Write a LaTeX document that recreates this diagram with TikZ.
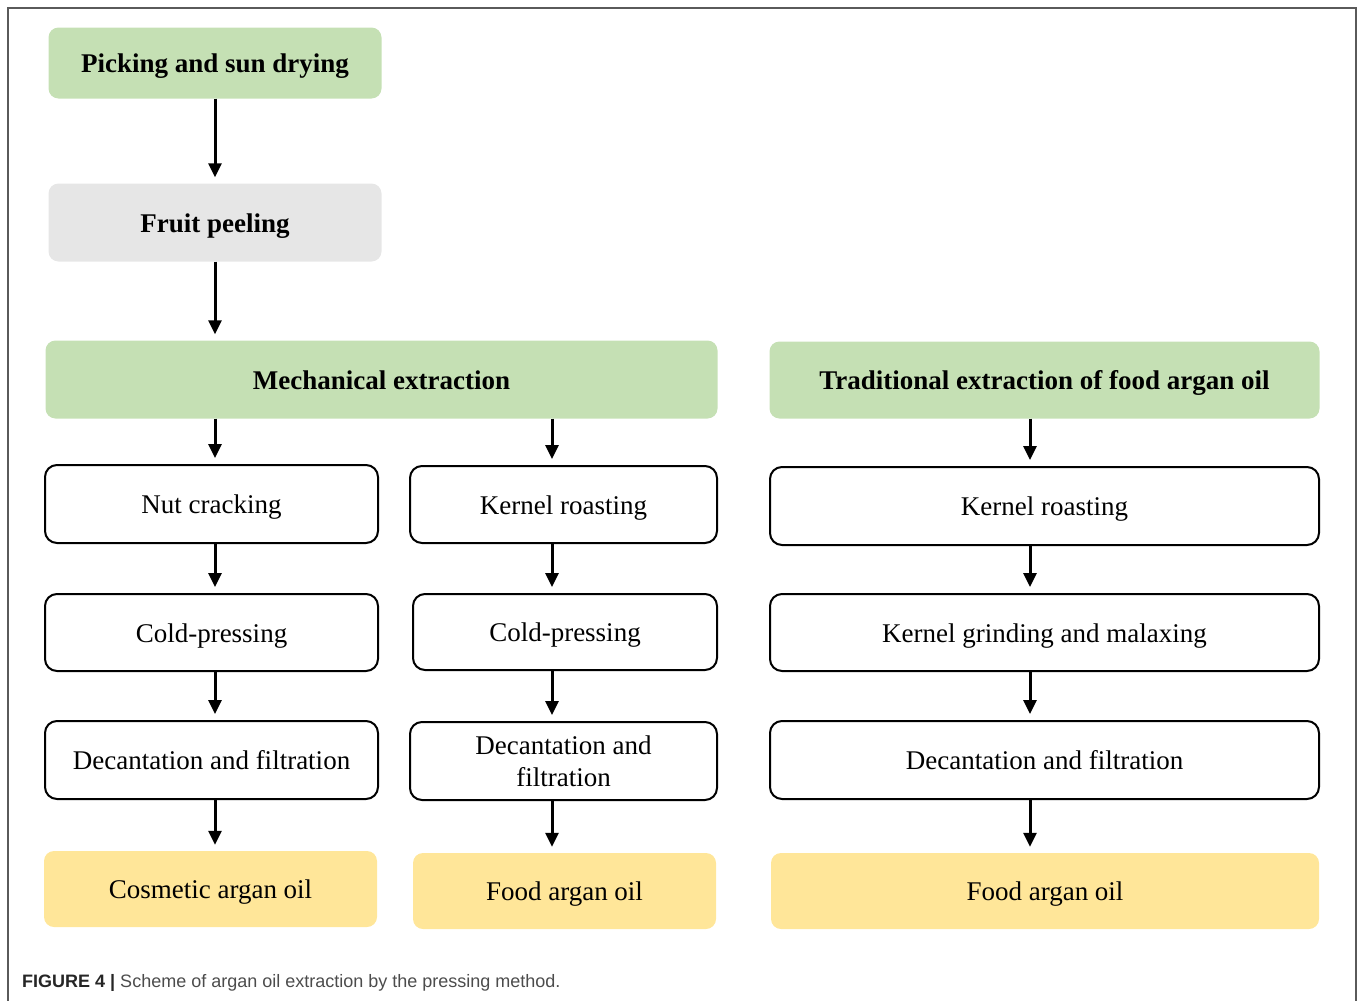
\documentclass[tikz,border=0pt]{standalone}
\usepackage{fontspec}
\setmainfont{Liberation Serif}
\newfontfamily\capfont{Liberation Sans}
\usetikzlibrary{arrows.meta}
\definecolor{stagegreen}{HTML}{C5E0B4}
\definecolor{peelgray}{HTML}{E6E6E6}
\definecolor{oilyellow}{HTML}{FFE699}
\definecolor{framegray}{HTML}{5A5A5A}
\begin{document}
\begin{tikzpicture}[x=1pt,y=-1pt,
  font=\fontsize{27}{32}\selectfont,
  onerow/.style={text height=20pt, text depth=0.5pt},
  stagebox/.style={rectangle, rounded corners=10pt, fill=stagegreen, inner sep=0pt, onerow, font=\fontsize{27}{32}\selectfont\bfseries},
  peelbox/.style={stagebox, fill=peelgray},
  framebox/.style={rectangle, rounded corners=12pt, draw, line width=2pt, fill=white, inner sep=0pt, align=center},
  stepbox/.style={framebox, onerow},
  oilbox/.style={rectangle, rounded corners=10pt, fill=oilyellow, inner sep=0pt, onerow},
  flow/.style={line width=3pt, -{Triangle[width=13pt,length=14pt]}, shorten >=6pt}]
\useasboundingbox (0,0) rectangle (1358,1001);
\draw[framegray, line width=1.5pt] (8,1001) -- (8,8) -- (1356,8) -- (1356,1001);
\coordinate (colA) at (215,0);
\coordinate (colB) at (552,0);
\coordinate (colC) at (1030,0);
\node[stagebox, minimum width=333pt, minimum height=71pt] (pick) at (215,63) {Picking and sun drying};
\node[peelbox, minimum width=333pt, minimum height=78pt] (peel) at (215,222.5) {Fruit peeling};
\node[stagebox, minimum width=672pt, minimum height=78pt] (mech) at (381.5,379.5) {Mechanical extraction};
\node[stagebox, minimum width=550pt, minimum height=77pt] (trad) at (1044.5,380) {Traditional extraction of food argan oil};
\node[stepbox, minimum width=333pt, minimum height=78pt] (crack) at (211.5,504) {Nut cracking};
\node[stepbox, minimum width=307pt, minimum height=77pt] (roastA) at (563.5,504.5) {Kernel roasting};
\node[stepbox, minimum width=549pt, minimum height=78pt] (roastB) at (1044.5,506) {Kernel roasting};
\node[stepbox, minimum width=333pt, minimum height=77pt] (pressA) at (211.5,632.5) {Cold-pressing};
\node[stepbox, minimum width=304pt, minimum height=76pt] (pressB) at (565,632) {Cold-pressing};
\node[stepbox, minimum width=549pt, minimum height=77pt] (grind) at (1044.5,632.5) {Kernel grinding and malaxing};
\node[stepbox, minimum width=333pt, minimum height=78pt] (decA) at (211.5,760) {Decantation and filtration};
\node[framebox, minimum width=307pt, minimum height=78pt] (decB) at (563.5,761) {Decantation and\\filtration};
\node[stepbox, minimum width=549pt, minimum height=78pt] (decC) at (1044.5,760) {Decantation and filtration};
\node[oilbox, minimum width=333pt, minimum height=76pt] (cosm) at (210.5,889) {Cosmetic argan oil};
\node[oilbox, minimum width=303pt, minimum height=76pt] (foodA) at (564.5,891) {Food argan oil};
\node[oilbox, minimum width=548pt, minimum height=76pt] (foodB) at (1045,891) {Food argan oil};
\node[anchor=base west, inner sep=0pt, font=\capfont\fontsize{18}{22}\selectfont] (cap) at (22,987) {\textcolor{black!85}{\bfseries FIGURE 4 |} \textcolor{black!70}{Scheme of argan oil extraction by the pressing method.}};
\draw[flow] (pick.south -| colA) -- (peel.north -| colA);
\draw[flow] (peel.south -| colA) -- (mech.north -| colA);
\draw[flow] (mech.south -| colA) -- (crack.north -| colA);
\draw[flow] (crack.south -| colA) -- (pressA.north -| colA);
\draw[flow] (pressA.south -| colA) -- (decA.north -| colA);
\draw[flow] (decA.south -| colA) -- (cosm.north -| colA);
\draw[flow] (mech.south -| colB) -- (roastA.north -| colB);
\draw[flow] (roastA.south -| colB) -- (pressB.north -| colB);
\draw[flow] (pressB.south -| colB) -- (decB.north -| colB);
\draw[flow] (decB.south -| colB) -- (foodA.north -| colB);
\draw[flow] (trad.south -| colC) -- (roastB.north -| colC);
\draw[flow] (roastB.south -| colC) -- (grind.north -| colC);
\draw[flow] (grind.south -| colC) -- (decC.north -| colC);
\draw[flow] (decC.south -| colC) -- (foodB.north -| colC);
\end{tikzpicture}
\end{document}
